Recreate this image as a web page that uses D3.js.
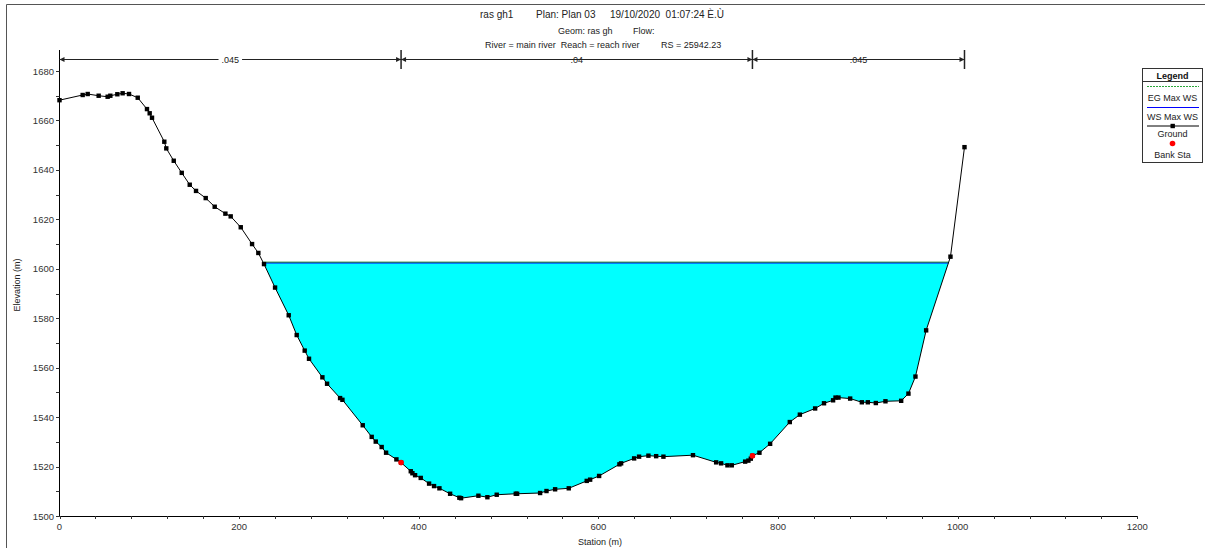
<!DOCTYPE html>
<html>
<head>
<meta charset="utf-8">
<script src="https://cdn.jsdelivr.net/npm/d3@7"></script>
<style>
  html, body { margin: 0; padding: 0; background: #fff; }
  svg { display: block; font-family: Arial, "Liberation Sans", sans-serif; }
</style>
</head>
<body>
<svg id="chart" width="1205" height="548"></svg>
<script>
// Cross-section ground survey: station (m) and elevation (m)
const stations = [0, 25.8, 31.4, 43.6, 53.6, 56.6, 64.4, 70.3, 77.4, 87.1, 97.4, 100.4, 103, 116.7, 118.9, 127.2, 136.1, 145, 152, 162.8, 172.8, 184.7, 190.6, 201.8, 214.4, 221.4, 227.7, 240, 255.2, 264.1, 273, 277.8, 292.7, 297.9, 312.4, 315, 337.6, 347.6, 352.1, 358.7, 363.6, 375.1, 380.3, 391.1, 392.9, 395.9, 402.2, 411.5, 417, 423, 434.9, 445.2, 447.1, 466.4, 476.4, 486.8, 508, 509.5, 535.1, 542.2, 551.8, 567, 587, 590.8, 600.8, 623.4, 625.3, 639.8, 645.3, 655.7, 664.3, 672.4, 705.3, 731.1, 736.6, 743.7, 748.5, 763.4, 767, 769.7, 771.5, 779.3, 791.2, 813.1, 824.3, 841.3, 851.2, 861.3, 864, 867.3, 880.3, 893.3, 900, 908.9, 919.6, 937.1, 945.2, 953, 964.9, 992, 1007.6];
const elevations = [1668.2, 1670.3, 1670.7, 1670.0, 1669.6, 1670.0, 1670.6, 1671.0, 1670.7, 1669.2, 1664.6, 1662.9, 1661.1, 1651.4, 1648.7, 1643.7, 1638.8, 1634.0, 1631.5, 1628.6, 1625.1, 1622.3, 1621.2, 1616.8, 1610.0, 1606.4, 1601.9, 1592.4, 1581.2, 1573.2, 1566.9, 1563.6, 1556.1, 1553.5, 1547.7, 1547.0, 1536.7, 1532.0, 1530.1, 1527.9, 1525.6, 1522.9, 1521.6, 1518.1, 1517.3, 1516.5, 1515.4, 1513.1, 1512.1, 1511.2, 1509.0, 1507.4, 1507.2, 1508.2, 1507.6, 1508.6, 1509.0, 1509.0, 1509.3, 1510.1, 1510.8, 1511.2, 1514.2, 1514.7, 1516.2, 1520.9, 1521.3, 1523.3, 1524.0, 1524.4, 1524.2, 1524.0, 1524.6, 1521.7, 1521.3, 1520.5, 1520.5, 1522.0, 1522.4, 1523.2, 1524.4, 1525.6, 1529.2, 1538.0, 1541.0, 1543.5, 1545.6, 1546.8, 1547.9, 1547.9, 1547.5, 1546.0, 1546.0, 1545.7, 1546.4, 1546.6, 1549.5, 1556.4, 1575.1, 1604.9, 1649.2];

// Bank stations
const bankStations = [380.3, 771.5];
const bankElevations = [1521.6, 1524.4];

// Water surface results
const wsMax = 1602.4;   // WS Max WS
const egMax = 1602.45;  // EG Max WS

// Manning's n regions
const nBreaks = [0, 380.3, 771.5, 1007.6];
const nValues = [".045", ".04", ".045"];

// Axis ticks
const xMajorTicks = [0, 200, 400, 600, 800, 1000, 1200];
const xMinorTicks = d3.range(0, 1201, 40);
const yMajorTicks = [1500, 1520, 1540, 1560, 1580, 1600, 1620, 1640, 1660, 1680];
const yMinorTicks = d3.range(1500, 1681, 10);

// Title lines
const titleLine1 = ["ras gh1", "Plan: Plan 03", "19/10/2020  01:07:24 È.Ù"];
const titleLine2 = ["Geom: ras gh", "Flow:"];
const titleLine3 = ["River = main river  Reach = reach river", "RS = 25942.23"];

const legendItems = ["EG Max WS", "WS Max WS", "Ground", "Bank Sta"];

const svg = d3.select("#chart");
const ground = stations.map((s, i) => ({ s, z: elevations[i] }));

const x = d3.scaleLinear().domain([0, 1200]).range([59.5, 1137.3]);
const y = d3.scaleLinear().domain([1500, 1688.5]).range([516, 50]);

// Outer frame (top and left edges)
svg.append("path")
  .attr("d", "M6.5,548 V4.5 H1205")
  .attr("fill", "none").attr("stroke", "#555").attr("stroke-width", 1);

// Title block
const tt = svg.append("g").attr("fill", "#222");
const t1x = [480, 536, 610];
titleLine1.forEach((t, i) => tt.append("text").attr("x", t1x[i]).attr("y", 18)
  .attr("font-size", 10).style("white-space", "pre").text(t));
const t2x = [558, 633];
titleLine2.forEach((t, i) => tt.append("text").attr("x", t2x[i]).attr("y", 34)
  .attr("font-size", 9).style("white-space", "pre").text(t));
const t3x = [485, 661];
titleLine3.forEach((t, i) => tt.append("text").attr("x", t3x[i]).attr("y", 47.5)
  .attr("font-size", 9).style("white-space", "pre").text(t));

// Water fill between ground and water surface
function crossing(a, b, level) {
  const t = (level - a.z) / (b.z - a.z);
  return { s: a.s + t * (b.s - a.s), z: level };
}
const wet = [];
for (let i = 0; i < ground.length - 1; i++) {
  const a = ground[i], b = ground[i + 1];
  if (a.z > wsMax && b.z <= wsMax) wet.push(crossing(a, b, wsMax));
  if (b.z <= wsMax) wet.push(b);
  if (a.z <= wsMax && b.z > wsMax) wet.push(crossing(a, b, wsMax));
}
const wsLeft = wet[0].s, wsRight = wet[wet.length - 1].s;

svg.append("path")
  .datum(wet)
  .attr("d", d3.area().x(d => x(d.s)).y0(d => y(d.z)).y1(y(wsMax)))
  .attr("fill", "#00ffff");

// Water surface lines
svg.append("line")
  .attr("x1", x(wsLeft)).attr("x2", x(wsRight))
  .attr("y1", y(wsMax)).attr("y2", y(wsMax))
  .attr("stroke", "#0000ff").attr("stroke-width", 1.2);
svg.append("line")
  .attr("x1", x(wsLeft)).attr("x2", x(wsRight))
  .attr("y1", y(egMax) - 0.6).attr("y2", y(egMax) - 0.6)
  .attr("stroke", "#1a8a2a").attr("stroke-width", 1);

// Ground line and points
svg.append("path")
  .datum(ground)
  .attr("d", d3.line().x(d => x(d.s)).y(d => y(d.z)))
  .attr("fill", "none").attr("stroke", "#000").attr("stroke-width", 1);
svg.append("g").selectAll("rect").data(ground).join("rect")
  .attr("x", d => x(d.s) - 2.2).attr("y", d => y(d.z) - 2.2)
  .attr("width", 4.4).attr("height", 4.4).attr("fill", "#000");

// Bank stations
svg.append("g").selectAll("circle").data(bankStations).join("circle")
  .attr("cx", d => x(d)).attr("cy", (d, i) => y(bankElevations[i]))
  .attr("r", 2.8).attr("fill", "#ff0000");

// Axes
const axisColor = "#000";
const xAxis = svg.append("g");
xAxis.append("line").attr("x1", x(0)).attr("x2", x(1200)).attr("y1", 516.5).attr("y2", 516.5)
  .attr("stroke", axisColor);
xAxis.selectAll("line.minor").data(xMinorTicks).join("line").attr("class", "minor")
  .attr("x1", d => Math.round(x(d)) + 0.5).attr("x2", d => Math.round(x(d)) + 0.5)
  .attr("y1", 516).attr("y2", 519).attr("stroke", "#333");
xAxis.selectAll("text").data(xMajorTicks).join("text")
  .attr("x", d => x(d)).attr("y", 530).attr("text-anchor", "middle")
  .attr("font-size", 9.5).attr("fill", "#333").text(d => d);

const yAxis = svg.append("g");
yAxis.append("line").attr("x1", 59.5).attr("x2", 59.5).attr("y1", 50).attr("y2", 516.5)
  .attr("stroke", axisColor);
yAxis.selectAll("line.minor").data(yMinorTicks).join("line").attr("class", "minor")
  .attr("x1", 56).attr("x2", 59.5)
  .attr("y1", d => Math.round(y(d)) + 0.5).attr("y2", d => Math.round(y(d)) + 0.5)
  .attr("stroke", "#333");
yAxis.selectAll("text").data(yMajorTicks).join("text")
  .attr("x", 54).attr("y", d => y(d) + 3.5).attr("text-anchor", "end")
  .attr("font-size", 9.5).attr("fill", "#333").text(d => d);

svg.append("text").attr("x", 600).attr("y", 545).attr("text-anchor", "middle")
  .attr("font-size", 9).attr("fill", "#222").text("Station (m)");
svg.append("text").attr("transform", "translate(20,285) rotate(-90)")
  .attr("text-anchor", "middle").attr("font-size", 9).attr("fill", "#222").text("Elevation (m)");

// Manning's n bar
const nb = svg.append("g");
const nY = 59.5;
nBreaks.slice(1).forEach(b => {
  nb.append("line").attr("x1", x(b)).attr("x2", x(b)).attr("y1", 50).attr("y2", 69)
    .attr("stroke", "#222").attr("stroke-width", 1.5);
});
nValues.forEach((v, i) => {
  const x0 = x(nBreaks[i]), x1 = x(nBreaks[i + 1]);
  nb.append("line").attr("x1", x0).attr("x2", x1).attr("y1", nY).attr("y2", nY)
    .attr("stroke", "#222").attr("stroke-width", 1);
  nb.append("path").attr("d", `M${x0},${nY} l5,-2.5 v5 z`).attr("fill", "#222");
  nb.append("path").attr("d", `M${x1},${nY} l-5,-2.5 v5 z`).attr("fill", "#222");
  const cx = (x0 + x1) / 2;
  const lbl = nb.append("text").attr("x", cx).attr("y", nY + 3.2).attr("text-anchor", "middle")
    .attr("font-size", 9).attr("fill", "#222").text(v);
  const w = lbl.node().getComputedTextLength();
  nb.insert("rect", "text").attr("x", cx - w / 2 - 3).attr("y", nY - 4).attr("width", w + 6)
    .attr("height", 8).attr("fill", "#fff");
});

// Legend
const lg = svg.append("g");
lg.append("rect").attr("x", 1142.5).attr("y", 68.5).attr("width", 60).attr("height", 94)
  .attr("fill", "#fff").attr("stroke", "#333").attr("stroke-width", 1);
lg.append("text").attr("x", 1172.5).attr("y", 79).attr("text-anchor", "middle")
  .attr("font-size", 9).attr("font-weight", "bold").attr("fill", "#111").text("Legend");
lg.append("line").attr("x1", 1142.5).attr("x2", 1202.5).attr("y1", 81.5).attr("y2", 81.5)
  .attr("stroke", "#333");
lg.append("line").attr("x1", 1147).attr("x2", 1199).attr("y1", 86.5).attr("y2", 86.5)
  .attr("stroke", "#2aa83a").attr("stroke-dasharray", "2,1");
lg.append("line").attr("x1", 1147).attr("x2", 1199).attr("y1", 107.5).attr("y2", 107.5)
  .attr("stroke", "#0000ff");
lg.append("line").attr("x1", 1147).attr("x2", 1199).attr("y1", 126).attr("y2", 126)
  .attr("stroke", "#000");
lg.append("rect").attr("x", 1170.5).attr("y", 123.8).attr("width", 4.4).attr("height", 4.4)
  .attr("fill", "#000");
lg.append("circle").attr("cx", 1172.5).attr("cy", 143.5).attr("r", 2.8).attr("fill", "#ff0000");
const legendY = [100.5, 119.5, 137, 158];
legendItems.forEach((t, i) => lg.append("text").attr("x", 1172.5).attr("y", legendY[i])
  .attr("text-anchor", "middle").attr("font-size", 9).attr("fill", "#222").text(t));
</script>
</body>
</html>
